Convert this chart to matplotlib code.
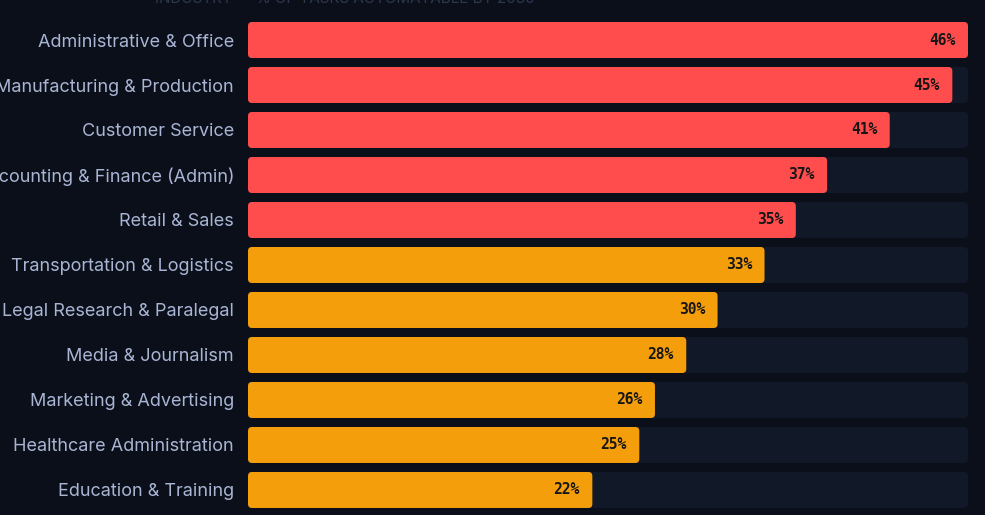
import matplotlib
matplotlib.use("Agg")
import matplotlib.pyplot as plt
from matplotlib.patches import FancyBboxPatch

industries = [
    "Administrative & Office",
    "Manufacturing & Production",
    "Customer Service",
    "Accounting & Finance (Admin)",
    "Retail & Sales",
    "Transportation & Logistics",
    "Legal Research & Paralegal",
    "Media & Journalism",
    "Marketing & Advertising",
    "Healthcare Administration",
    "Education & Training",
]
automatable = [46, 45, 41, 37, 35, 33, 30, 28, 26, 25, 22]
high_risk_cutoff = 35

bg = "#0a0f1a"
track = "#111827"
red = "#ff4d4d"
amber = "#f59e0b"
label_col = "#a9b5d3"

fig = plt.figure(figsize=(9.85, 5.15), dpi=100, facecolor=bg)
ax = fig.add_axes([248 / 985, 0, 720 / 985, 1])
ax.set_facecolor(bg)

xmax = max(automatable)
ax.set_xlim(0, xmax)
ax.set_ylim(10.556, -0.889)

px_x = 720 / xmax
px_y = 45
rs = 4 / px_x
aspect = px_x / px_y
h = 0.8

for i, (name, v) in enumerate(zip(industries, automatable)):
    ax.add_patch(FancyBboxPatch((0, i - h / 2), xmax, h,
                                boxstyle=f"round,pad=0,rounding_size={rs}",
                                mutation_aspect=aspect, fc=track, ec="none"))
    col = red if v >= high_risk_cutoff else amber
    ax.add_patch(FancyBboxPatch((0, i - h / 2), v, h,
                                boxstyle=f"round,pad=0,rounding_size={rs}",
                                mutation_aspect=aspect, fc=col, ec="none"))
    ax.annotate(f"{v}%", (v, i), xytext=(-9, 0), textcoords="offset points",
                ha="right", va="center", fontsize=10.5, fontweight="bold",
                family="DejaVu Sans Mono", color="#161616")

ax.set_yticks(range(len(industries)))
ax.set_yticklabels(industries, family=["Inter", "DejaVu Sans"], fontsize=13,
                   color=label_col)
ax.tick_params(axis="y", length=0, pad=10)
ax.set_xticks([])
for s in ax.spines.values():
    s.set_visible(False)

fig.text(155 / 985, 1 - 3 / 515, "INDUSTRY — % OF TASKS AUTOMATABLE BY 2030",
         family=["Inter", "DejaVu Sans"], fontsize=10.9, color="#2e3850",
         ha="left", va="baseline")

fig.savefig("out.png", dpi=100, facecolor=bg)
